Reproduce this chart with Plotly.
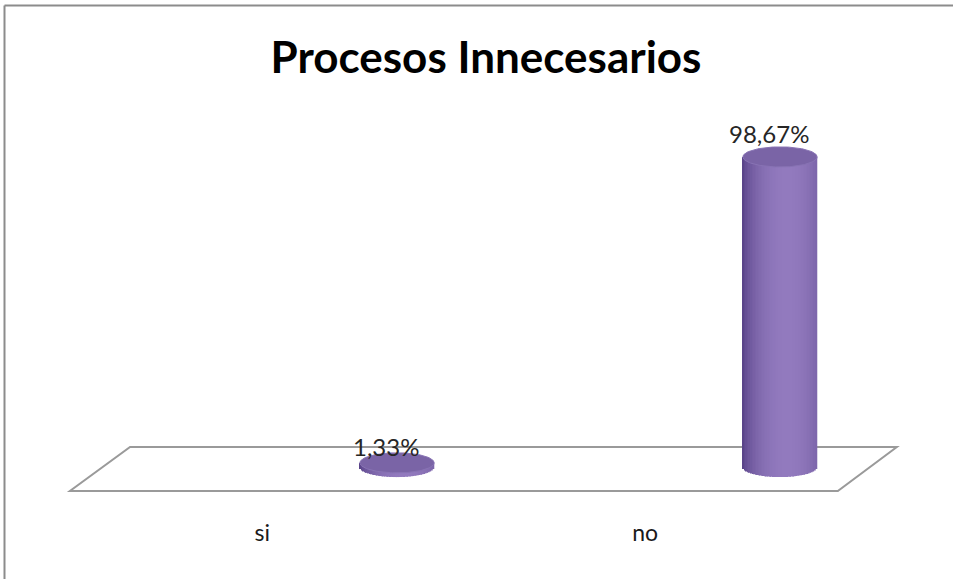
import numpy as np
import plotly.graph_objects as go

# --- data -------------------------------------------------------------
categories = ["si", "no"]
percentages = [1.33, 98.67]
title_text = "Procesos Innecesarios"

# --- geometry of the pseudo-3D scene (axis units) ----------------------
cat_pos = np.arange(len(categories), dtype=float)   # cylinder centres
label_offset = -0.352        # category labels sit on the floor's front edge
rx = 0.097                   # cylinder half-width (x units)
ry = 3.2                     # ellipse half-height (y units, %)
floor_back, floor_front = 6.37, -7.64
floor_x_back = (-0.697, 1.305)
floor_x_front = (-0.854, 1.151)

dark = np.array([84, 62, 132])
light = np.array([146, 122, 190])


def shade(t):
    w = 1 - ((t - 0.2) / 1.2) ** 2
    w = max(w, 0.0) ** 0.7
    c = dark + (light - dark) * w
    return "rgb({},{},{})".format(*[int(round(v)) for v in c])


fig = go.Figure()

# floor parallelogram, kept underneath the cylinders
fig.add_shape(
    type="path", xref="x", yref="y", layer="below",
    path=(f"M {floor_x_back[0]},{floor_back} L {floor_x_back[1]},{floor_back} "
          f"L {floor_x_front[1]},{floor_front} L {floor_x_front[0]},{floor_front} Z"),
    line=dict(color="#9a9a9a", width=2), fillcolor="white",
)

# cylinder bodies: thin shaded bar slices with an elliptic lower rim
n = 48
xs, bases, heights, widths, colors = [], [], [], [], []
for c, v in zip(cat_pos, percentages):
    for j in range(n):
        t = -1 + (2 * j + 1) / n
        rim = ry * np.sqrt(max(1 - t * t, 0))
        xs.append(c + t * rx)
        bases.append(-rim)
        heights.append(v + rim)
        widths.append(2 * rx / n * 1.15)
        colors.append(shade(t))

fig.add_trace(go.Bar(
    x=xs, y=heights, base=bases, width=widths,
    marker=dict(color=colors, line=dict(width=0)),
    hoverinfo="skip", showlegend=False,
))

# cylinder tops
theta = np.linspace(0, 2 * np.pi, 120)
for c, v in zip(cat_pos, percentages):
    fig.add_trace(go.Scatter(
        x=c + rx * np.cos(theta), y=v + ry * np.sin(theta),
        mode="lines", line=dict(color="rgb(136,115,180)", width=1),
        fill="toself", fillcolor="rgb(122,100,166)",
        hoverinfo="skip", showlegend=False,
    ))

# value labels
for c, v in zip(cat_pos, percentages):
    fig.add_annotation(
        x=c - 0.03, y=v, yshift=23 if v > 10 else 16,
        text=f"{v:.2f}".replace(".", ",") + "%",
        showarrow=False, font=dict(family="Lato", size=24, color="#262626"),
    )

# outer frame
bottom_margin = 68
plot_h = 579 - bottom_margin
fig.add_shape(type="line", xref="paper", yref="paper",
              x0=4.5 / 953, x1=1.01, y0=(plot_h - 5.5) / plot_h, y1=(plot_h - 5.5) / plot_h,
              line=dict(color="#8c8c8c", width=2))
fig.add_shape(type="line", xref="paper", yref="paper",
              x0=4.5 / 953, x1=4.5 / 953, y0=(plot_h - 5.5) / plot_h, y1=-0.2,
              line=dict(color="#8c8c8c", width=2))

fig.update_layout(
    width=953, height=579,
    margin=dict(l=0, r=0, t=0, b=bottom_margin),
    paper_bgcolor="white", plot_bgcolor="white",
    barmode="overlay",
    title=dict(text=f"<b>{title_text}</b>", x=486 / 953, xref="container", xanchor="center",
               y=1 - 58 / 579, yanchor="middle",
               font=dict(family="Lato", size=44, color="black")),
    xaxis=dict(range=[-1.0366, 1.4517], showgrid=False, zeroline=False, showline=False,
               tickmode="array", tickvals=list(cat_pos + label_offset), ticktext=categories,
               ticks="outside", ticklen=1, tickcolor="rgba(0,0,0,0)",
               tickfont=dict(family="Lato", size=23, color="#1a1a1a"), fixedrange=True),
    yaxis=dict(range=[-14.0, 148.6], visible=False, fixedrange=True),
    font=dict(family="Lato"),
)

fig.write_html("out.html")
